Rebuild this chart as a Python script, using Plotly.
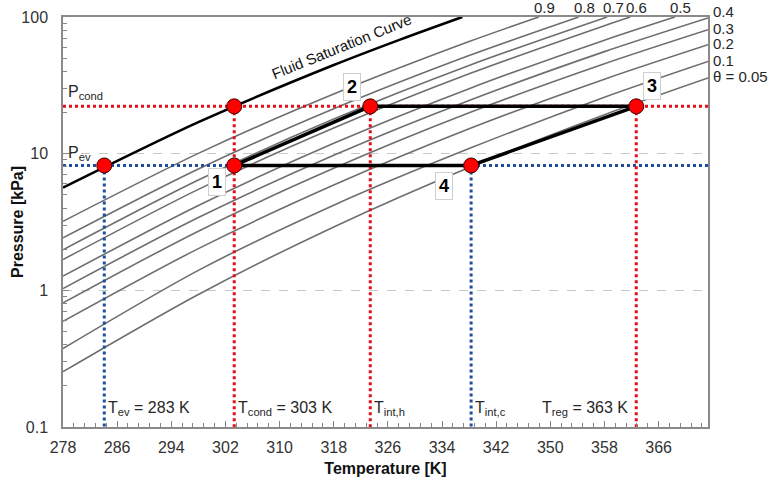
import numpy as np
import plotly.graph_objects as go

# ---------------- data ----------------
T_RANGE = [278, 373.3]          # K
P_RANGE = [0.1, 100]            # kPa

x_ticks = [278, 286, 294, 302, 310, 318, 326, 334, 342, 350, 358, 366]
y_ticks = [0.1, 1, 10, 100]
y_tick_text = ["0.1", "1", "10", "100"]
y_minor_ticks = [0.2, 0.3, 0.4, 0.5, 0.6, 0.7, 0.8, 0.9,
                 2, 3, 4, 5, 6, 7, 8, 9,
                 20, 30, 40, 50, 60, 70, 80, 90]

# fluid saturation curve
sat_T = [278, 298, 318, 328, 337]
sat_P = [5.64, 17.0, 44.5, 68.9, 100]

# isosteres (theta = 0.9 ... 0.05)
theta_labels = ["0.9", "0.8", "0.7", "0.6", "0.5", "0.4", "0.3", "0.2", "0.1", "θ = 0.05"]
iso_T = [
    [278, 298, 318, 338, 348.3],
    [278, 298, 318, 338, 354.2],
    [278, 298, 318, 338, 358.4],
    [278, 298, 318, 338, 358, 361.8],
    [278, 298, 318, 338, 358, 368.4],
    [278, 298, 318, 338, 358, 373.3],
    [278, 298, 318, 338, 358, 373.3],
    [278, 298, 318, 338, 358, 373.3],
    [278, 298, 318, 338, 358, 373.3],
    [278, 298, 318, 338, 358, 373.3],
]
iso_P = [
    [3.20, 10.05, 27.3, 66.1, 100],
    [2.42, 7.72, 21.3, 52.2, 100],
    [1.98, 6.41, 17.9, 44.2, 100],
    [1.68, 5.48, 15.4, 38.4, 86.4, 100],
    [1.27, 4.18, 11.9, 29.9, 67.7, 100],
    [1.03, 3.41, 9.73, 24.5, 55.8, 98.4],
    [0.809, 2.71, 7.81, 19.9, 45.5, 80.7],
    [0.593, 2.02, 5.89, 15.2, 35.1, 62.7],
    [0.375, 1.40, 4.20, 10.9, 25.9, 47.3],
    [0.254, 0.933, 2.91, 7.93, 19.3, 35.8],
]

# cycle state temperatures / pressures
T_ev, T_cond, T_int_h, T_int_c, T_reg = 284.1, 303.3, 323.4, 338.3, 362.7
P_ev, P_cond = 8.2, 22.2

cycle_T = [T_cond, T_int_h, T_reg, T_int_c, T_cond]      # 1 -> 2 -> 3 -> 4 -> 1
cycle_P = [P_ev, P_cond, P_cond, P_ev, P_ev]
marker_T = [T_ev, T_cond, T_cond, T_int_h, T_reg, T_int_c]
marker_P = [P_ev, P_cond, P_ev, P_cond, P_cond, P_ev]

state_names = ["1", "2", "3", "4"]
state_T = [T_cond, T_int_h, T_reg, T_int_c]
state_P = [P_ev, P_cond, P_cond, P_ev]

# ---------------- styling ----------------
FONT = "Arial, 'Liberation Sans', sans-serif"
RED = "#e3101a"
BLUE = "#1d4f9c"
GRAY = "#6e6e6e"
TXT = "#262626"

fig = go.Figure()

for Ts, Ps in zip(iso_T, iso_P):
    fig.add_trace(go.Scatter(x=Ts, y=Ps, mode="lines",
                             line=dict(color=GRAY, width=1.6, shape="spline", smoothing=0.8),
                             hoverinfo="skip", showlegend=False))

fig.add_trace(go.Scatter(x=sat_T, y=sat_P, mode="lines",
                         line=dict(color="black", width=2.6, shape="spline", smoothing=0.8),
                         showlegend=False))

def dotted(xs, ys, color):
    fig.add_trace(go.Scatter(x=xs, y=ys, mode="lines",
                             line=dict(color=color, width=3, dash="dot"),
                             showlegend=False, hoverinfo="skip"))

# horizontal dotted
dotted(T_RANGE, [P_cond, P_cond], RED)
dotted(T_RANGE, [P_ev, P_ev], BLUE)
# vertical dotted
dotted([T_ev, T_ev], [P_ev, P_RANGE[0]], BLUE)
dotted([T_cond, T_cond], [P_cond, P_RANGE[0]], RED)
dotted([T_int_h, T_int_h], [P_cond, P_RANGE[0]], RED)
dotted([T_int_c, T_int_c], [P_ev, P_RANGE[0]], BLUE)
dotted([T_reg, T_reg], [P_cond, P_RANGE[0]], RED)

fig.add_trace(go.Scatter(x=cycle_T, y=cycle_P, mode="lines",
                         line=dict(color="black", width=3.5), showlegend=False))

fig.add_trace(go.Scatter(x=marker_T, y=marker_P, mode="markers",
                         marker=dict(color="#ff0000", size=15,
                                     line=dict(color="#400000", width=1)),
                         showlegend=False))

ann = []
# state number boxes
offsets = {"1": (-17, -17), "2": (-18, 19), "3": (16, 20), "4": (-27, -21)}
for n, t, p in zip(state_names, state_T, state_P):
    dx, dy = offsets[n]
    ann.append(dict(x=t, y=np.log10(p), text="<b>%s</b>" % n, showarrow=False,
                    xshift=dx, yshift=dy, font=dict(family=FONT, size=18, color="black"),
                    bgcolor="white", bordercolor="#cfcfcf", borderwidth=1, borderpad=3))

# pressure labels
ann.append(dict(x=T_RANGE[0], y=np.log10(P_cond), text="P<sub>cond</sub>", showarrow=False,
                xanchor="left", yanchor="middle", xshift=3, yshift=14,
                font=dict(family=FONT, size=16, color=TXT)))
ann.append(dict(x=T_RANGE[0], y=np.log10(P_ev), text="P<sub>ev</sub>", showarrow=False,
                xanchor="left", yanchor="middle", xshift=3, yshift=12,
                font=dict(family=FONT, size=16, color=TXT)))

# temperature labels
yb = np.log10(P_RANGE[0])
tl = [(T_ev, "T<sub>ev</sub> = 283 K", "left"),
      (T_cond, "T<sub>cond</sub> = 303 K", "left"),
      (T_int_h, "T<sub>int,h</sub>", "left"),
      (T_int_c, "T<sub>int,c</sub>", "left"),
      (T_reg, "T<sub>reg</sub> = 363 K", "right")]
for t, txt, anc in tl:
    ann.append(dict(x=t, y=yb, text=txt, showarrow=False, xanchor=anc, yanchor="middle",
                    xshift=2 if anc == "left" else -6, yshift=19,
                    font=dict(family=FONT, size=16, color=TXT)))

# theta labels
for lab, Ts, Ps in zip(theta_labels, iso_T, iso_P):
    if Ps[-1] >= 99.9 and Ts[-1] < T_RANGE[1] - 0.5:
        ann.append(dict(x=Ts[-1], y=2, text=lab, showarrow=False, xanchor="center",
                        yanchor="middle", xshift=6, yshift=10,
                        font=dict(family=FONT, size=15, color=TXT)))
    else:
        ann.append(dict(x=T_RANGE[1], y=np.log10(Ps[-1]), text=lab, showarrow=False,
                        xanchor="left", yanchor="middle", xshift=3,
                        yshift=6 if Ps[-1] > 95 else 1,
                        font=dict(family=FONT, size=15, color=TXT)))

# saturation curve label
ann.append(dict(x=319.1, y=np.log10(60.7), text="Fluid Saturation Curve", showarrow=False,
                textangle=-22, font=dict(family=FONT, size=15, color="#111")))

# y-axis title
ann.append(dict(xref="paper", yref="paper", x=0, y=0.5, xanchor="center", yanchor="middle",
                xshift=-46, text="<b>Pressure [kPa]</b>", textangle=-90, showarrow=False,
                font=dict(family=FONT, size=16, color="#111")))

fig.update_layout(
    width=768, height=481,
    margin=dict(l=63, r=60, t=17, b=54),
    paper_bgcolor="white", plot_bgcolor="white",
    font=dict(family=FONT, size=16, color="#333"),
    annotations=ann,
    showlegend=False,
)
fig.update_xaxes(range=T_RANGE, tickvals=x_ticks, ticks="inside", ticklen=6,
                 tickcolor="#888", showgrid=False, zeroline=False, automargin=False,
                 showline=True, linecolor="#8a8a8a", linewidth=1.5, mirror=True,
                 minor=dict(ticks="inside", ticklen=4, dtick=1.6, tick0=278, tickcolor="#888"),
                 tickfont=dict(size=16, color="#333"), ticklabelstandoff=5,
                 title=dict(text="<b>Temperature [K]</b>", font=dict(size=16, color="#111"),
                            standoff=8))
fig.update_yaxes(type="log", range=[np.log10(P_RANGE[0]), np.log10(P_RANGE[1])],
                 tickvals=y_ticks, ticktext=y_tick_text, ticks="inside", ticklen=6,
                 tickcolor="#888", showgrid=True, gridcolor="#c8c8c8", griddash="dash",
                 gridwidth=1, zeroline=False, automargin=False,
                 showline=True, linecolor="#8a8a8a", linewidth=1.5, mirror=True,
                 minor=dict(tickvals=y_minor_ticks, ticks="inside", ticklen=4,
                            tickcolor="#888", showgrid=False),
                 tickfont=dict(size=16, color="#333"), ticklabelstandoff=10)

fig.write_html("out.html", config={"displayModeBar": False},
               post_script="document.body.style.margin='0';document.body.style.padding='0';")
